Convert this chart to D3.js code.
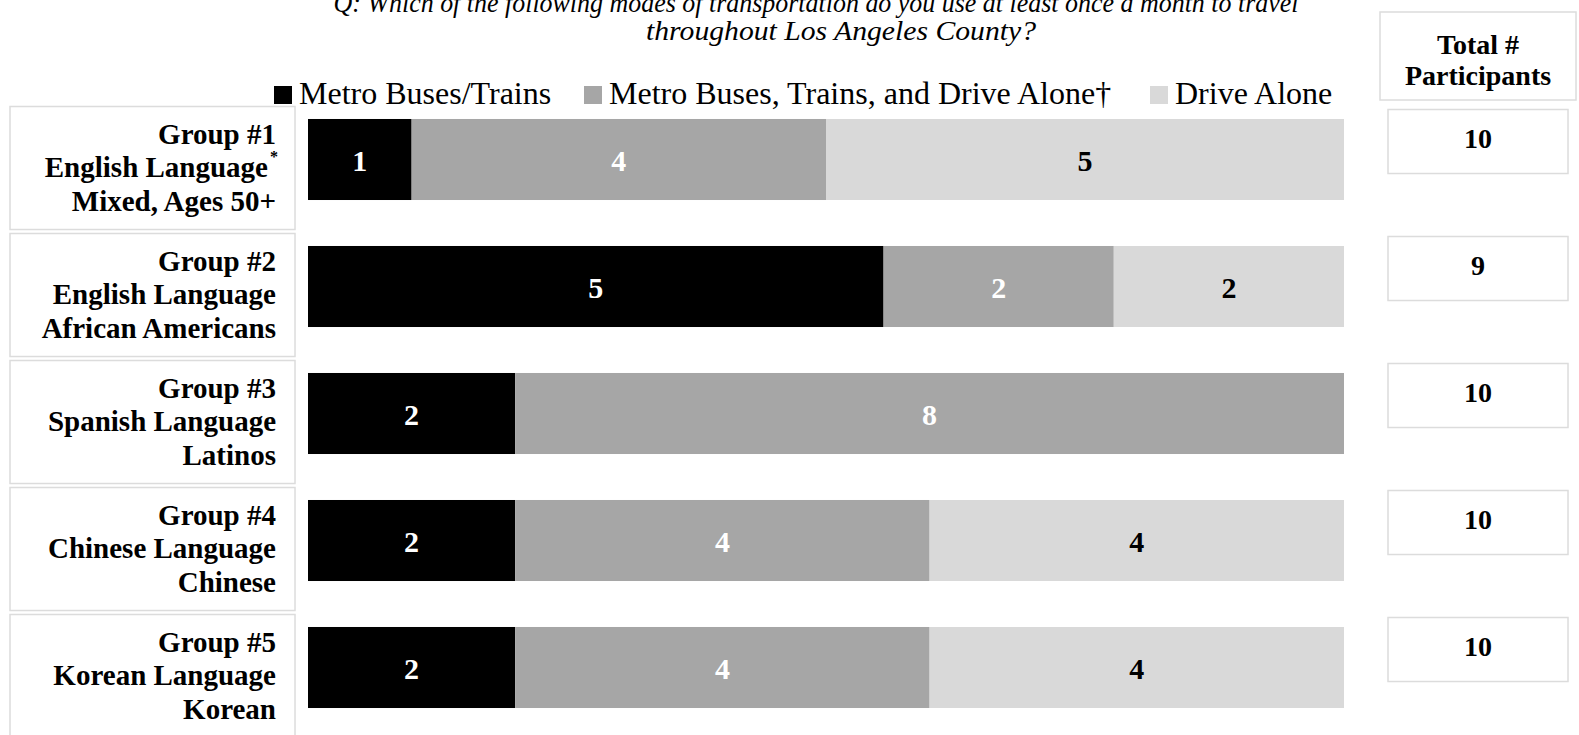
<!DOCTYPE html>
<meta charset="utf-8">
<head>
<title>Modes of transportation by group</title>
<script src="https://cdn.jsdelivr.net/npm/d3@7"></script>
<style>
  body { margin: 0; background: #fff; }
  svg { display: block; font-family: "Liberation Serif", "Times New Roman", serif; }
  .box { fill: #fff; stroke: #dcdcdc; stroke-width: 1.5; }
  .grp { font-weight: bold; font-size: 29px; text-anchor: end; }
  .val { font-weight: bold; font-size: 30px; text-anchor: middle; }
  .tot { font-weight: bold; font-size: 28px; text-anchor: middle; }
  .legend text { font-size: 32px; }
  .title { font-style: italic; font-size: 28px; text-anchor: middle; }
</style>
</head>
<body>
<div id="chart"></div>
<script>
// data
var groups = ["Group #1", "Group #2", "Group #3", "Group #4", "Group #5"];
var langLines = ["English Language", "English Language", "Spanish Language", "Chinese Language", "Korean Language"];
var popLines = ["Mixed, Ages 50+", "African Americans", "Latinos", "Chinese", "Korean"];
var series = ["Metro Buses/Trains", "Metro Buses, Trains, and Drive Alone\u2020", "Drive Alone"];
var metroOnly = [1, 5, 2, 2, 2];
var metroAndDrive = [4, 2, 8, 4, 4];
var driveAlone = [5, 2, 0, 4, 4];
var totals = [10, 9, 10, 10, 10];
var titleLines = ["Q: Which of the following modes of transportation do you use at least once a month to travel",
                  "throughout Los Angeles County?"];

var width = 1579, height = 735;
var colors = ["#000000", "#a6a6a6", "#d9d9d9"];
var textColors = ["#fff", "#fff", "#000"];

var svg = d3.select("#chart").append("svg")
    .attr("width", width)
    .attr("height", height);

// bars are 100% stacked, labels keep the counts
var rows = groups.map(function(g, i) {
  return {group: g, total: totals[i], s0: metroOnly[i], s1: metroAndDrive[i], s2: driveAlone[i]};
});
var stack = d3.stack().keys(["s0", "s1", "s2"])
    .value(function(d, key) { return d[key] / d.total; });
var stacked = stack(rows);

var x = d3.scaleLinear().domain([0, 1]).range([308, 1344]);
var y = d3.scaleBand().domain(groups).range([96, 731])
    .paddingInner(0.362).paddingOuter(0.181);

// title (the top line is partly clipped in the original too)
svg.selectAll(".title").data(titleLines).enter().append("text")
    .attr("class", "title")
    .attr("x", function(d, i) { return i ? 841 : 816; })
    .attr("y", function(d, i) { return 12 + i * 28; })
    .attr("textLength", function(d, i) { return i ? 390 : 965; })
    .attr("lengthAdjust", "spacingAndGlyphs")
    .text(function(d) { return d; });

// legend
var legX = [274, 584, 1150];
var leg = svg.append("g").attr("class", "legend");
var li = leg.selectAll("g").data(series).enter().append("g")
    .attr("transform", function(d, i) { return "translate(" + legX[i] + ",0)"; });
li.append("rect").attr("y", 86).attr("width", 18).attr("height", 18)
    .attr("fill", function(d, i) { return colors[i]; });
li.append("text").attr("x", 25).attr("y", 104).text(function(d) { return d; });

// group label boxes
var lab = svg.selectAll(".lab").data(groups).enter().append("g").attr("class", "lab");
lab.append("rect").attr("class", "box")
    .attr("x", 10).attr("width", 285)
    .attr("y", function(d) { return y(d) + y.bandwidth() / 2 - 53; })
    .attr("height", 123);
var lt = lab.append("text").attr("class", "grp")
    .attr("x", 276)
    .attr("y", function(d) { return y(d) + y.bandwidth() / 2 - 16; });
lt.append("tspan").attr("x", 276).text(function(d) { return d; });
lt.append("tspan").attr("x", 276).attr("dy", 33.5)
    .text(function(d, i) { return langLines[i]; })
    .filter(function(d, i) { return i === 0; })
    .attr("dx", -8);
lt.append("tspan").attr("x", 276).attr("dy", 33.5)
    .text(function(d, i) { return popLines[i]; });
// asterisk on group 1
lab.filter(function(d, i) { return i === 0; }).append("text")
    .attr("x", 270).attr("y", y(groups[0]) + y.bandwidth() / 2 + 2)
    .attr("font-size", 16).attr("font-weight", "bold").text("*");

// bars
var layer = svg.selectAll(".layer").data(stacked).enter().append("g")
    .attr("class", "layer")
    .attr("fill", function(d, i) { return colors[i]; });
layer.selectAll("rect").data(function(d) { return d; }).enter().append("rect")
    .attr("x", function(d) { return x(d[0]); })
    .attr("width", function(d) { return x(d[1]) - x(d[0]); })
    .attr("y", function(d) { return y(d.data.group); })
    .attr("height", y.bandwidth());

// value labels
stacked.forEach(function(s, k) {
  svg.append("g").selectAll("text").data(s.filter(function(d) { return d.data[s.key] > 0; }))
    .enter().append("text")
    .attr("class", "val")
    .attr("fill", textColors[k])
    .attr("x", function(d) { return (x(d[0]) + x(d[1])) / 2; })
    .attr("y", function(d) { return y(d.data.group) + y.bandwidth() / 2 + 11; })
    .text(function(d) { return d.data[s.key]; });
});

// totals column
svg.append("rect").attr("class", "box")
    .attr("x", 1380).attr("y", 12).attr("width", 196).attr("height", 88);
svg.append("text").attr("class", "tot").attr("x", 1478).attr("y", 54).text("Total #");
svg.append("text").attr("class", "tot").attr("x", 1478).attr("y", 85).text("Participants");

var tb = svg.selectAll(".totbox").data(groups).enter().append("g").attr("class", "totbox");
tb.append("rect").attr("class", "box")
    .attr("x", 1388).attr("width", 180)
    .attr("y", function(d) { return y(d) + y.bandwidth() / 2 - 50; })
    .attr("height", 64);
tb.append("text").attr("class", "tot")
    .attr("x", 1478)
    .attr("y", function(d) { return y(d) + y.bandwidth() / 2 - 12; })
    .text(function(d, i) { return totals[i]; });
</script>
</body>
